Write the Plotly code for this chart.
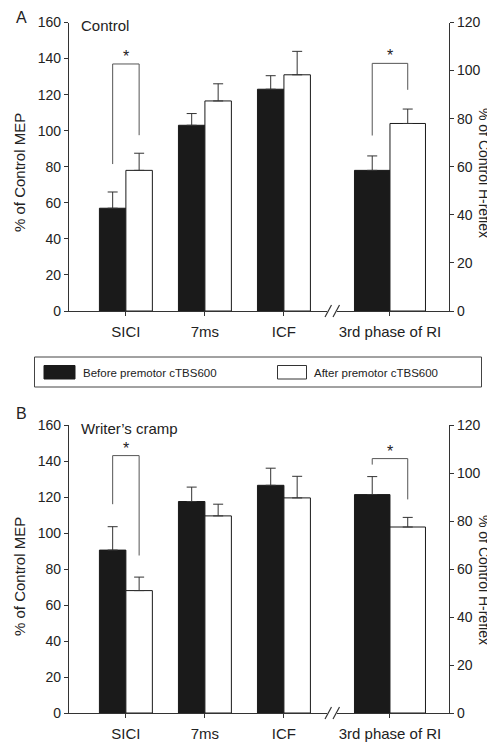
import plotly.graph_objects as go

PAGE_W, PAGE_H = 495, 748
OFF = 8  # default body margin of the html page
W, H = PAGE_W - OFF, PAGE_H - OFF

# ---------------- data ----------------
mep_categories = ["SICI", "7ms", "ICF"]
ri_categories = ["3rd phase of RI"]

# Panel A: Control
a_mep_before = [57, 103, 123]
a_mep_before_err = [9, 6.5, 7.5]
a_mep_after = [78, 116.5, 131]
a_mep_after_err = [9.5, 9.5, 13]
a_ri_before = [58.5]
a_ri_before_err = [6]
a_ri_after = [78]
a_ri_after_err = [6]

# Panel B: Writer's cramp
b_mep_before = [90.5, 117.5, 126.5]
b_mep_before_err = [13, 8, 9.5]
b_mep_after = [68, 109.5, 119.5]
b_mep_after_err = [7.5, 6.5, 12]
b_ri_before = [91]
b_ri_before_err = [7.5]
b_ri_after = [77.5]
b_ri_after_err = [4]

# significance brackets: (top, left leg bottom, right leg bottom)
a_sici_bracket = [137, 81.5, 97.5]
a_ri_bracket = [103, 73, 92]
b_sici_bracket = [143, 116, 87.5]
b_ri_bracket = [106, 103.5, 89]

mep_ticks = [0, 20, 40, 60, 80, 100, 120, 140, 160]
ri_ticks = [0, 20, 40, 60, 80, 100, 120]

legend_labels = ["Before premotor cTBS600", "After premotor cTBS600"]

# ---------------- styling ----------------
FONT = "Liberation Sans, Arial, sans-serif"
BLACK = "#1a1a1a"
AX = "#333333"
TXT = "#222222"
BARGAP = 0.33
HALF = (1 - BARGAP) / 4  # offset of bar centre from category centre


def px(x):
    return (x - OFF) / W


def py(y):
    return 1 - (y - OFF) / H


fig = go.Figure()


def err(arr):
    return dict(type="data", array=arr, arrayminus=[0] * len(arr), symmetric=False,
                color=AX, thickness=1, width=5)


def add_panel(xa, ya, xb, yb, mb, mbe, ma, mae, rb, rbe, ra, rae):
    fig.add_trace(go.Bar(x=mep_categories, y=mb, error_y=err(mbe), name=legend_labels[0],
                         marker=dict(color=BLACK, line=dict(color=BLACK, width=1)),
                         xaxis=xa, yaxis=ya, showlegend=False))
    fig.add_trace(go.Bar(x=mep_categories, y=ma, error_y=err(mae), name=legend_labels[1],
                         marker=dict(color="white", line=dict(color=BLACK, width=1)),
                         xaxis=xa, yaxis=ya, showlegend=False))
    fig.add_trace(go.Bar(x=ri_categories, y=rb, error_y=err(rbe), name=legend_labels[0],
                         marker=dict(color=BLACK, line=dict(color=BLACK, width=1)),
                         xaxis=xb, yaxis=yb, showlegend=False))
    fig.add_trace(go.Bar(x=ri_categories, y=ra, error_y=err(rae), name=legend_labels[1],
                         marker=dict(color="white", line=dict(color=BLACK, width=1)),
                         xaxis=xb, yaxis=yb, showlegend=False))


add_panel("x", "y", "x2", "y2", a_mep_before, a_mep_before_err, a_mep_after, a_mep_after_err,
          a_ri_before, a_ri_before_err, a_ri_after, a_ri_after_err)
add_panel("x3", "y3", "x4", "y4", b_mep_before, b_mep_before_err, b_mep_after, b_mep_after_err,
          b_ri_before, b_ri_before_err, b_ri_after, b_ri_after_err)

# domains (pixel based layout)
xl_dom = [px(69), px(327)]
xr_dom = [px(337), px(449)]
ya_dom = [py(311), py(22.5)]
yb_dom = [py(713), py(425)]

common_x = dict(type="category", showline=True, linecolor=AX, linewidth=1.2, ticks="outside",
                ticklen=4, tickcolor=AX, showgrid=False, zeroline=False, automargin=False,
                ticklabelstandoff=3,
                tickfont=dict(family=FONT, size=15, color=TXT), fixedrange=True)
common_y = dict(showline=True, linecolor=AX, linewidth=1.2, ticks="outside", ticklen=4,
                tickcolor=AX, showgrid=False, zeroline=False, automargin=False,
                tickfont=dict(family=FONT, size=14, color=TXT), fixedrange=True)

left_range = [-0.72, 2.545]
right_range = [-0.5, 0.557]

fig.update_layout(
    xaxis=dict(common_x, domain=xl_dom, anchor="y", range=left_range),
    xaxis2=dict(common_x, domain=xr_dom, anchor="y2", range=right_range),
    xaxis3=dict(common_x, domain=xl_dom, anchor="y3", range=left_range),
    xaxis4=dict(common_x, domain=xr_dom, anchor="y4", range=right_range),
    yaxis=dict(common_y, domain=ya_dom, anchor="x", range=[0, 160], tickvals=mep_ticks),
    yaxis2=dict(common_y, domain=ya_dom, anchor="x2", side="right", range=[0, 120], tickvals=ri_ticks),
    yaxis3=dict(common_y, domain=yb_dom, anchor="x3", range=[0, 160], tickvals=mep_ticks),
    yaxis4=dict(common_y, domain=yb_dom, anchor="x4", side="right", range=[0, 120], tickvals=ri_ticks),
)

shapes = []
annotations = []


def text(x, y, s, size=15, angle=0, xanchor="center", yanchor="middle"):
    annotations.append(dict(xref="paper", yref="paper", x=px(x), y=py(y), text=s, textangle=angle,
                            showarrow=False, xanchor=xanchor, yanchor=yanchor,
                            font=dict(family=FONT, size=size, color=TXT)))


def bracket(xref, yref, cat, vals):
    top, lb, rb = vals
    x0, x1 = cat - HALF, cat + HALF
    line = dict(color="#555", width=1)
    shapes.append(dict(type="line", xref=xref, yref=yref, x0=x0, x1=x0, y0=lb, y1=top, line=line))
    shapes.append(dict(type="line", xref=xref, yref=yref, x0=x0, x1=x1, y0=top, y1=top, line=line))
    shapes.append(dict(type="line", xref=xref, yref=yref, x0=x1, x1=x1, y0=top, y1=rb, line=line))
    annotations.append(dict(xref=xref, yref=yref, x=cat, y=top, text="*", showarrow=False,
                            xanchor="center", yanchor="bottom", yshift=-3,
                            font=dict(family=FONT, size=16, color=TXT)))


bracket("x", "y", 0, a_sici_bracket)
bracket("x2", "y2", 0, a_ri_bracket)
bracket("x3", "y3", 0, b_sici_bracket)
bracket("x4", "y4", 0, b_ri_bracket)

# axis break marks
for yaxis_px in (311, 713):
    for x0 in (325, 333):
        shapes.append(dict(type="line", xref="paper", yref="paper",
                           x0=px(x0), x1=px(x0 + 6.5), y0=py(yaxis_px + 6), y1=py(yaxis_px - 6),
                           line=dict(color=AX, width=1.2)))

# legend box (drawn)
shapes.append(dict(type="rect", xref="paper", yref="paper", x0=px(34.5), x1=px(481.5),
                   y0=py(387), y1=py(357), line=dict(color="#444", width=1), fillcolor="white"))
shapes.append(dict(type="rect", xref="paper", yref="paper", x0=px(44), x1=px(75),
                   y0=py(379), y1=py(365.5), line=dict(color=BLACK, width=1), fillcolor=BLACK))
shapes.append(dict(type="rect", xref="paper", yref="paper", x0=px(277.5), x1=px(306.5),
                   y0=py(379), y1=py(365.5), line=dict(color="#333", width=1), fillcolor="white"))
text(81, 372.5, legend_labels[0], size=11.5, xanchor="left")
text(312, 372.5, legend_labels[1], size=11.5, xanchor="left")

# axis titles, panel letters, panel titles
text(19, 173, "% of Control MEP", angle=-90)
text(19, 577, "% of Control MEP", angle=-90)
text(484, 173, "% of Control H-reflex", size=14, angle=90)
text(484, 580, "% of Control H-reflex", size=14, angle=90)
text(21, 18, "A", size=16)
text(21, 414, "B", size=16)
text(79, 26, "Control", xanchor="left")
text(79, 428, "Writer\u2019s cramp", xanchor="left")

fig.update_layout(
    width=W, height=H,
    margin=dict(l=0, r=0, t=0, b=0, autoexpand=False),
    paper_bgcolor="white", plot_bgcolor="white",
    barmode="group", bargap=BARGAP, bargroupgap=0,
    shapes=shapes, annotations=annotations,
    showlegend=False,
)

fig.write_html("out.html")
